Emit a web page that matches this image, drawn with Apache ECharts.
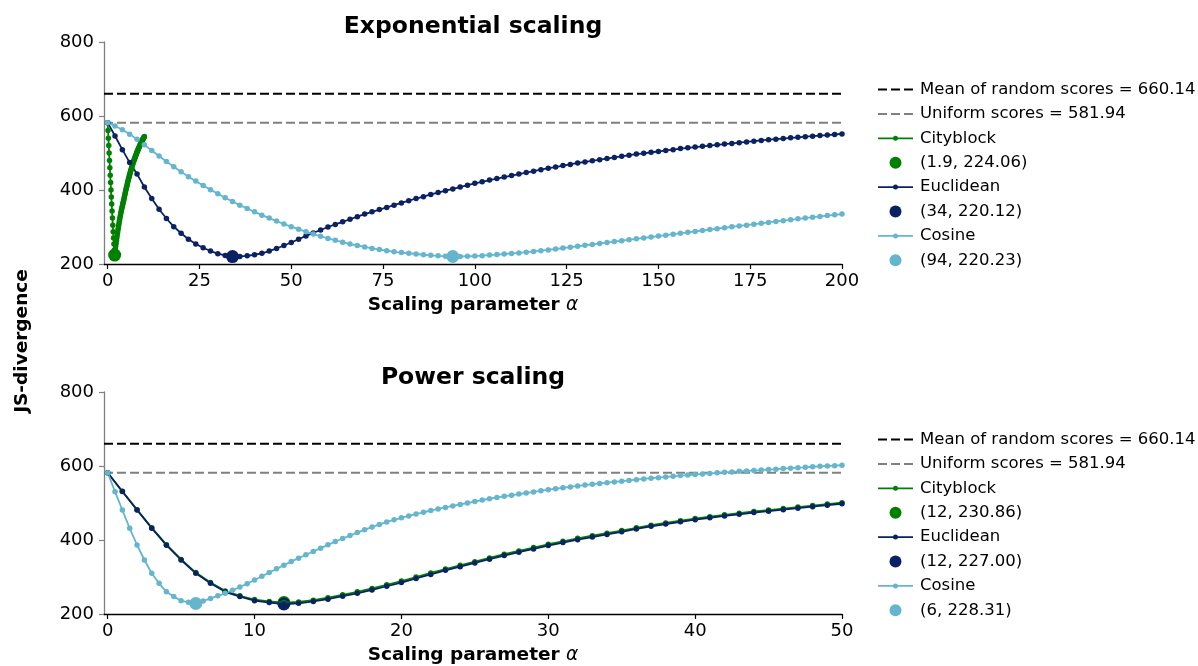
<!DOCTYPE html>
<html>
<head>
<meta charset="utf-8">
<script src="https://cdn.jsdelivr.net/npm/echarts@6/dist/echarts.min.js"></script>
<style>
html,body{margin:0;padding:0;background:#fff;}
#chart{width:1198px;height:666px;}
</style>
</head>
<body>
<div id="chart"></div>
<script>
// ---------- data ----------
const meanScore = 660.14;
const uniformScore = 581.94;

// Exponential scaling
const expCityAlpha = [0,0.1,0.2,0.3,0.4,0.5,0.6,0.7,0.8,0.9,1,1.1,1.2,1.3,1.4,1.5,1.6,1.7,1.8,1.9,2,2.1,2.2,2.3,2.4,2.5,2.6,2.7,2.8,2.9,3,3.1,3.2,3.3,3.4,3.5,3.6,3.7,3.8,3.9,4,4.1,4.2,4.3,4.4,4.5,4.6,4.7,4.8,4.9,5,5.1,5.2,5.3,5.4,5.5,5.6,5.7,5.8,5.9,6,6.1,6.2,6.3,6.4,6.5,6.6,6.7,6.8,6.9,7,7.1,7.2,7.3,7.4,7.5,7.6,7.7,7.8,7.9,8,8.1,8.2,8.3,8.4,8.5,8.6,8.7,8.8,8.9,9,9.1,9.2,9.3,9.4,9.5,9.6,9.7,9.8,9.9,10];
const expCityblock = [581.94,561,540,520,500,480,460,440,420,400,
381,362,343,324,305,287,270,254,238,224.06,
232.5,240.7,248.6,256.3,263.8,271.1,278.2,285.1,291.8,298.3,
304.6,310.7,316.6,322.3,327.8,333.1,338.2,343.1,347.8,352.4,
356.9,361.3,365.6,369.8,374.6,379.3,383.9,388.4,392.9,397.3,
401.7,406,410.3,414.5,418.7,422.9,427,431,434.7,438.4,
442,445.6,449.1,452.6,456,459.4,462.7,466,469.2,472.4,
475.5,478.4,481.2,484,486.8,489.5,492.2,494.8,497.4,500,
502.5,505,507.4,509.8,512.2,514.5,516.8,519,521.2,523.4,
525.5,527.6,529.6,531.6,533.6,535.5,537.4,539.2,541,542.8,
544.5];
const expAlpha = [0,2,4,6,8,10,12,14,16,18,20,22,24,26,28,30,32,34,36,38,40,42,44,46,48,50,52,54,56,58,60,62,64,66,68,70,72,74,76,78,80,82,84,86,88,90,92,94,96,98,100,102,104,106,108,110,112,114,116,118,120,122,124,126,128,130,132,134,136,138,140,142,144,146,148,150,152,154,156,158,160,162,164,166,168,170,172,174,176,178,180,182,184,186,188,190,192,194,196,198,200];
const expEuclidean = [581.94,546,509,474,443,408,377,348,323,301,
283,267,254,244,235,228,223,220.12,220.5,222,
225,229,235,242,250,258,267,276,284,292,
300,307,314,321,328,335,341,347,353,359,
365,371,377,382,388,393,398,403,408,413,
418,422,427,431,435,439,443,447,451,455,
459,462,466,469,473,476,479,482,485,488,
491,494,497,499,502,504,507,509,512,514,
516,518,520,522,524,526,528,530,532,534,
536,537.5,539,541,542.5,544,545.5,547,548.5,550,
551.5];
const expCosine = [581.94,573,563,551,537,522,507,492,477,463,
449,436,424,412,401,390,379,369,359,350,
341,332,324,316,308,301,294,287,281,275,
269,264,259,254,250,246,242,239,236,233,
231,229,227,225,223.5,222,221,220.23,220.5,221,
221.5,222.5,224,225.5,227,228.5,230,232,234,236,
238,240.5,243,245.5,248,250.5,253,255.5,258,260.5,
263,265.5,268,270.5,273,275.5,278,280.5,283,285.5,
288,290.5,293,295.5,298,300.5,303,305,307.5,310,
312.5,315,317,319.5,322,324,326.5,328.5,331,333,
335];
const expMinX = [1.9, 34, 94];
const expMinY = [224.06, 220.12, 220.23];
const expTicks = [0, 25, 50, 75, 100, 125, 150, 175, 200];

// Power scaling
const powAlpha = [0,1,2,3,4,5,6,7,8,9,10,11,12,13,14,15,16,17,18,19,20,21,22,23,24,25,26,27,28,29,30,31,32,33,34,35,36,37,38,39,40,41,42,43,44,45,46,47,48,49,50];
const powCityblock = [581.94,531.5,482,433,387.5,347.5,312,285,262.5,249,
239,234,230.86,232.5,237.5,244,252,260,269,279,
289,300,311,321.5,331.5,341.5,351.5,361.5,370.5,379.5,
388.5,396.5,404.5,411.5,418.5,425.5,433,440,446,452,
458,463,468,472.5,477,481,485,489,493,497,
501];
const powEuclidean = [581.94,531,481,432,386,346,310,283,260,247,
236,231,227.00,229,234,240,248,256,265,275,
285,296,307,318,328,338,348,358,367,376,
385,393,401,408,415,422,430,437,443,449,
455,460,465,469.5,474,478,482,486,490,494,
498];
const powCosAlpha = [0,0.5,1,1.5,2,2.5,3,3.5,4,4.5,5,5.5,6,6.5,7,7.5,8,8.5,9,9.5,10,10.5,11,11.5,12,12.5,13,13.5,14,14.5,15,15.5,16,16.5,17,17.5,18,18.5,19,19.5,20,20.5,21,21.5,22,22.5,23,23.5,24,24.5,25,25.5,26,26.5,27,27.5,28,28.5,29,29.5,30,30.5,31,31.5,32,32.5,33,33.5,34,34.5,35,35.5,36,36.5,37,37.5,38,38.5,39,39.5,40,40.5,41,41.5,42,42.5,43,43.5,44,44.5,45,45.5,46,46.5,47,47.5,48,48.5,49,49.5,50];
const powCosine = [581.94,530.6,481,431.5,386.5,346,310,283,260,247,
236,231.5,228.31,235,242,249,256,264,273,282,
292,302,312,322,332,342,351,360,369,378,
387,396,404,412,420,428,435,442,448.5,454.5,
460,465,470,475,479.5,484,488,492,496,500,
504,508,511.5,515,518,521,524,527,530,533,
536,538.5,541,543.5,546,548.5,551,553,555,557,
559,561,563,565,567,568.5,570.5,572,574,575.5,
577,578.5,580,581.5,583,584,585.5,586.5,588,589,
590.5,591.5,593,594,595.5,596.5,598,599,600,601,
602];
const powMinX = [12, 12, 6];
const powMinY = [230.86, 227.00, 228.31];
const powTicks = [0, 10, 20, 30, 40, 50];

const yTicksMin = 200, yTicksMax = 800, yTickStep = 200;
const metricNames = ['Cityblock', 'Euclidean', 'Cosine'];

// ---------- style ----------
const FONT = '"DejaVu Sans", "Liberation Sans", sans-serif';
const colors = ['#008000', '#0a2163', '#64b5cd'];
const meanName = 'Mean of random scores = ' + meanScore.toFixed(2);
const uniName = 'Uniform scores = ' + uniformScore.toFixed(2);

function zip(xs, ys) { return xs.map((x, i) => [x, ys[i]]); }
function minLabel(x, y) { return '(' + x + ', ' + y.toFixed(2) + ')'; }

const ICON_LINE = 'path://M0,5.1h35v1.8h-35z M15,6a2.5,2.5 0 1,1 5,0a2.5,2.5 0 1,1 -5,0z';
const ICON_DASH = 'path://M0,0h9v2h-9z M13,0h9v2h-9z M26,0h9v2h-9z';

function buildPanel(idx, xMin, xMax, lines, minX, minY) {
  const series = [];
  series.push({
    type: 'line', name: meanName, xAxisIndex: idx, yAxisIndex: idx,
    data: [[xMin, meanScore], [xMax, meanScore]], symbol: 'none',
    lineStyle: { color: '#000', width: 2, type: [9, 4] }, itemStyle: { color: '#000' },
    silent: true
  });
  series.push({
    type: 'line', name: uniName, xAxisIndex: idx, yAxisIndex: idx,
    data: [[xMin, uniformScore], [xMax, uniformScore]], symbol: 'none',
    lineStyle: { color: '#808080', width: 2, type: [9, 4] }, itemStyle: { color: '#808080' },
    silent: true
  });
  const legendData = [
    { name: meanName, icon: ICON_DASH, itemStyle: { color: '#000', borderWidth: 0 } },
    { name: uniName, icon: ICON_DASH, itemStyle: { color: '#808080', borderWidth: 0 } }
  ];
  lines.forEach((ln, i) => {
    series.push({
      type: 'line', name: metricNames[i], xAxisIndex: idx, yAxisIndex: idx,
      data: zip(ln.x, ln.y), symbol: 'circle', symbolSize: 5.5, showSymbol: true,
      lineStyle: { color: colors[i], width: 1.8 }, itemStyle: { color: colors[i], opacity: 1 },
      silent: true
    });
    const lab = minLabel(minX[i], minY[i]);
    series.push({
      type: 'scatter', name: lab, xAxisIndex: idx, yAxisIndex: idx,
      data: [[minX[i], minY[i]]], symbol: 'circle', symbolSize: 13,
      itemStyle: { color: colors[i], opacity: 1 }, silent: true
    });
    legendData.push({ name: metricNames[i], icon: ICON_LINE, itemStyle: { color: colors[i], borderWidth: 0, opacity: 1 } });
    legendData.push({ name: lab, icon: 'circle', itemStyle: { color: colors[i], borderWidth: 0, opacity: 1 } });
  });
  return { series, legendData };
}

const topPanel = buildPanel(0, -1, 200, [
  { x: expCityAlpha, y: expCityblock },
  { x: expAlpha, y: expEuclidean },
  { x: expAlpha, y: expCosine }
], expMinX, expMinY);
const botPanel = buildPanel(1, -0.25, 50, [
  { x: powAlpha, y: powCityblock },
  { x: powAlpha, y: powEuclidean },
  { x: powCosAlpha, y: powCosine }
], powMinX, powMinY);

function makeXAxis(idx, min, max, ticks) {
  return {
    type: 'value', gridIndex: idx, min: min, max: max,
    axisLine: { show: true, onZero: false, lineStyle: { color: '#000', width: 1.3 } },
    axisTick: { show: true, customValues: ticks, length: 5, lineStyle: { color: '#000', width: 1.2 } },
    axisLabel: { customValues: ticks, fontSize: 18, color: '#000', margin: 8, fontFamily: FONT },
    splitLine: { show: false },
    name: '{b|Scaling parameter }{a|α}',
    nameLocation: 'middle', nameGap: 32,
    nameTextStyle: {
      rich: {
        b: { fontSize: 18.5, fontWeight: 'bold', fontFamily: FONT, color: '#000' },
        a: { fontSize: 18.5, fontStyle: 'italic', fontFamily: FONT, color: '#000' }
      }
    }
  };
}
function makeYAxis(idx) {
  return {
    type: 'value', gridIndex: idx, min: yTicksMin, max: yTicksMax, interval: yTickStep,
    axisLine: { show: true, onZero: false, lineStyle: { color: '#808080', width: 1.3 } },
    axisTick: { show: true, length: 5, lineStyle: { color: '#808080', width: 1.2 } },
    axisLabel: { fontSize: 18, color: '#000', margin: 10, fontFamily: FONT },
    splitLine: { show: false }
  };
}
function makeLegend(topPx, data) {
  return {
    orient: 'vertical', left: 873, top: topPx, itemWidth: 35, itemHeight: 12, itemGap: 7.4,
    selectedMode: false, data: data,
    textStyle: { fontSize: 16.5, color: '#000', fontFamily: FONT, padding: [0, 0, 0, 2] }
  };
}

const chart = echarts.init(document.getElementById('chart'), null, { renderer: 'canvas' });
chart.setOption({
  animation: false,
  backgroundColor: '#fff',
  grid: [
    { left: 104, top: 42, width: 738, height: 222, containLabel: false },
    { left: 104, top: 392, width: 738, height: 222, containLabel: false }
  ],
  xAxis: [makeXAxis(0, -1, 200, expTicks), makeXAxis(1, -0.25, 50, powTicks)],
  yAxis: [makeYAxis(0), makeYAxis(1)],
  legend: [makeLegend(76, topPanel.legendData), makeLegend(426, botPanel.legendData)],
  graphic: [
    { type: 'text', x: 473, y: 27, silent: true,
      style: { text: 'Exponential scaling', align: 'center', verticalAlign: 'middle',
               fontSize: 23.5, fontWeight: 'bold', fontFamily: FONT, fill: '#000' } },
    { type: 'text', x: 473, y: 378, silent: true,
      style: { text: 'Power scaling', align: 'center', verticalAlign: 'middle',
               fontSize: 23.5, fontWeight: 'bold', fontFamily: FONT, fill: '#000' } },
    { type: 'text', x: 22, y: 341, rotation: Math.PI / 2, silent: true,
      style: { text: 'JS-divergence', align: 'center', verticalAlign: 'middle',
               fontSize: 18.5, fontWeight: 'bold', fontFamily: FONT, fill: '#000' } }
  ],
  series: topPanel.series.concat(botPanel.series)
});
</script>
</body>
</html>
